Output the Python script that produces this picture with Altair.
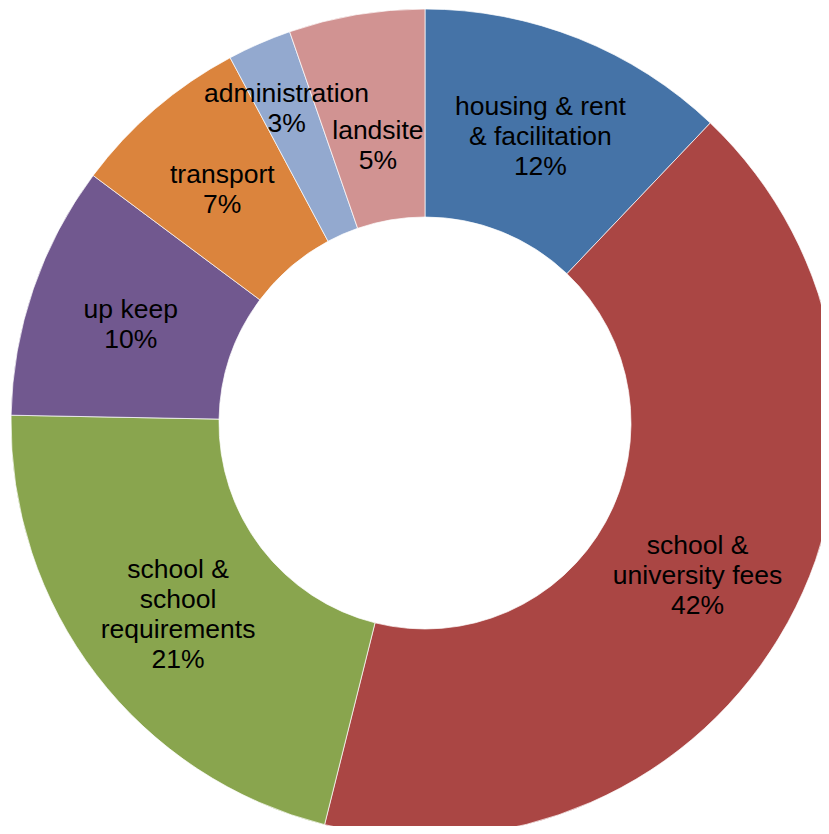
import altair as alt
import pandas as pd

categories = [
    "housing & rent & facilitation",
    "school & university fees",
    "school & school requirements",
    "up keep",
    "transport",
    "administration",
    "landsite",
]
values = [12.1, 41.8, 21.4, 9.9, 7.0, 2.5, 5.3]
label_lines = [
    ["housing & rent", "& facilitation", "12%"],
    ["school &", "university fees", "42%"],
    ["school &", "school", "requirements", "21%"],
    ["up keep", "10%"],
    ["transport", "7%"],
    ["administration", "3%"],
    ["landsite", "5%"],
]
colors = ["#4573A7", "#AA4644", "#89A54E", "#71588F", "#DB843D", "#93A9CF", "#D19392"]

CX, CY = 417, 415
LINE_H = 30

df = pd.DataFrame({
    "category": categories,
    "value": values,
    "label": ["\n".join(l) for l in label_lines],
    "order": list(range(len(categories))),
})

arcs = alt.Chart(df).mark_arc(
    innerRadius=206, outerRadius=414, stroke="white", strokeWidth=0.7
).encode(
    theta=alt.Theta("value:Q", stack=True),
    order=alt.Order("order:Q"),
    x=alt.value(CX),
    y=alt.value(CY),
    color=alt.Color("category:N", scale=alt.Scale(domain=categories, range=colors), legend=None),
)

labels = alt.Chart(df).transform_window(
    cum="sum(value)", sort=[alt.SortField("order")], frame=[None, 0]
).transform_joinaggregate(
    total="sum(value)"
).transform_calculate(
    mid="(datum.cum - datum.value / 2) / datum.total * 2 * PI",
    r="datum.category == 'administration' ? 346 : (datum.category == 'landsite' ? 284 : 311)",
    nlines="length(split(datum.label, '\\n'))",
).transform_calculate(
    px=f"{CX} + datum.r * sin(datum.mid)",
    py=f"{CY} + 3 - datum.r * cos(datum.mid) - (datum.nlines - 1) * {LINE_H} / 2",
).mark_text(
    font="Liberation Sans", fontSize=26.5, lineBreak="\n", lineHeight=LINE_H,
    align="center", baseline="middle", color="black"
).encode(
    x=alt.X("px:Q", scale=None),
    y=alt.Y("py:Q", scale=None),
    text="label:N",
)

chart = (arcs + labels).properties(
    width=813, height=818, padding=0,
    autosize=alt.AutoSizeParams(type="none"),
).configure_view(stroke=None)

chart.save("out.html", embed_options={"renderer": "svg", "actions": False})
